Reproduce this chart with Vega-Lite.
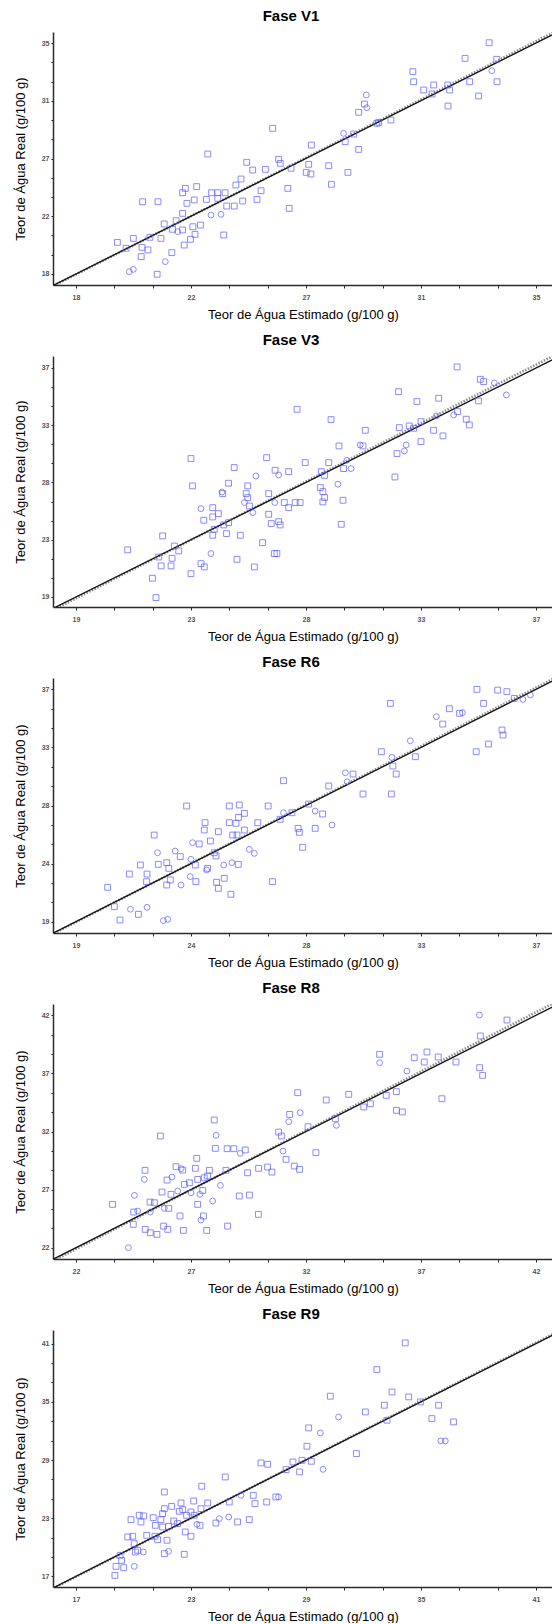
{
"$schema":"https://vega.github.io/schema/vega-lite/v6.json",
"padding":{"left":14,"top":9,"right":0,"bottom":0},
"background":"white",
"spacing":12,
"resolve":{"scale":{"x":"independent","y":"independent","shape":"independent"}},
"datasets":{
"V1":[
{"s":"q","x":25.27,"y":28.72},{"s":"q","x":22.87,"y":26.83},{"s":"q","x":24.31,"y":26.22},{"s":"q","x":24.53,"y":25.65},{"s":"q","x":25.0,"y":25.7},{"s":"q","x":24.1,"y":24.99},{"s":"q","x":23.91,"y":24.55},{"s":"q","x":22.04,"y":24.3},{"s":"q","x":22.46,"y":24.43},{"s":"q","x":21.94,"y":23.98},{"s":"q","x":20.46,"y":23.32},{"s":"q","x":21.03,"y":23.32},{"s":"q","x":22.82,"y":23.49},{"s":"q","x":23.01,"y":23.98},{"s":"q","x":23.24,"y":23.98},{"s":"q","x":23.51,"y":23.98},{"s":"q","x":23.24,"y":23.57},{"s":"q","x":24.84,"y":24.13},{"s":"q","x":24.69,"y":23.49},{"s":"q","x":24.16,"y":23.37},{"s":"q","x":23.85,"y":23.0},{"s":"q","x":23.57,"y":23.0},{"s":"q","x":22.1,"y":23.2},{"s":"q","x":22.37,"y":23.45},{"s":"c","x":22.99,"y":22.34},{"s":"c","x":23.36,"y":22.39},{"s":"q","x":21.94,"y":22.46},{"s":"q","x":21.7,"y":21.92},{"s":"q","x":21.26,"y":21.68},{"s":"q","x":21.57,"y":21.29},{"s":"q","x":21.94,"y":21.24},{"s":"c","x":21.76,"y":21.12},{"s":"q","x":22.32,"y":21.48},{"s":"q","x":22.6,"y":21.6},{"s":"q","x":22.4,"y":20.92},{"s":"q","x":22.23,"y":20.55},{"s":"q","x":20.73,"y":20.7},{"s":"q","x":21.14,"y":20.62},{"s":"q","x":20.12,"y":20.62},{"s":"q","x":19.53,"y":20.33},{"s":"q","x":23.46,"y":20.87},{"s":"q","x":22.0,"y":20.13},{"s":"q","x":20.66,"y":19.77},{"s":"q","x":20.44,"y":19.96},{"s":"q","x":19.85,"y":19.89},{"s":"q","x":21.54,"y":19.57},{"s":"q","x":20.41,"y":19.28},{"s":"c","x":21.3,"y":18.91},{"s":"c","x":19.97,"y":18.17},{"s":"c","x":20.12,"y":18.34},{"s":"q","x":21.0,"y":17.98},
{"s":"q","x":33.27,"y":35.02},{"s":"q","x":32.38,"y":33.87},{"s":"q","x":33.55,"y":33.8},{"s":"q","x":30.45,"y":32.89},{"s":"c","x":33.37,"y":32.96},{"s":"q","x":30.48,"y":32.15},{"s":"q","x":32.55,"y":32.15},{"s":"q","x":33.56,"y":32.15},{"s":"q","x":30.85,"y":31.54},{"s":"q","x":31.22,"y":31.91},{"s":"q","x":31.16,"y":31.25},{"s":"q","x":31.74,"y":31.91},{"s":"q","x":31.81,"y":31.54},{"s":"q","x":32.88,"y":31.1},{"s":"q","x":31.75,"y":30.36},{"s":"c","x":28.73,"y":31.17},{"s":"q","x":28.66,"y":30.51},{"s":"c","x":28.75,"y":30.24},{"s":"q","x":28.45,"y":29.9},{"s":"q","x":29.12,"y":29.09},{"s":"q","x":29.19,"y":29.16},{"s":"q","x":29.64,"y":29.33},{"s":"c","x":27.89,"y":28.35},{"s":"q","x":28.26,"y":28.3},{"s":"q","x":27.95,"y":27.74},{"s":"q","x":28.45,"y":27.17},{"s":"q","x":26.7,"y":27.49},{"s":"q","x":26.6,"y":26.07},{"s":"q","x":26.51,"y":25.48},{"s":"q","x":26.68,"y":25.36},{"s":"q","x":27.34,"y":25.97},{"s":"q","x":27.44,"y":24.6},{"s":"q","x":28.05,"y":25.48},{"s":"q","x":25.83,"y":24.3},{"s":"q","x":25.88,"y":22.83},{"s":"q","x":25.49,"y":26.44},{"s":"q","x":25.55,"y":26.14},{"s":"q","x":25.95,"y":25.78}
],
"V3":[
{"s":"q","x":23.5,"y":29.88},{"s":"q","x":23.56,"y":27.73},{"s":"q","x":25.19,"y":29.17},{"s":"q","x":24.97,"y":27.94},{"s":"q","x":26.46,"y":29.95},{"s":"q","x":26.79,"y":28.96},{"s":"c","x":26.04,"y":28.51},{"s":"q","x":25.72,"y":27.73},{"s":"c","x":24.71,"y":27.25},{"s":"q","x":24.74,"y":27.12},{"s":"q","x":25.66,"y":27.12},{"s":"q","x":25.72,"y":26.81},{"s":"c","x":25.59,"y":26.42},{"s":"q","x":25.79,"y":26.15},{"s":"c","x":25.92,"y":25.63},{"s":"q","x":26.54,"y":27.12},{"s":"c","x":26.78,"y":26.42},{"s":"q","x":26.54,"y":25.5},{"s":"q","x":26.64,"y":24.77},{"s":"c","x":23.89,"y":25.94},{"s":"q","x":24.35,"y":26.02},{"s":"q","x":24.57,"y":25.55},{"s":"q","x":24.35,"y":25.29},{"s":"q","x":24.0,"y":25.03},{"s":"q","x":24.78,"y":24.66},{"s":"q","x":24.97,"y":24.84},{"s":"q","x":24.41,"y":24.32},{"s":"q","x":24.35,"y":23.85},{"s":"q","x":24.89,"y":23.98},{"s":"q","x":25.43,"y":23.85},{"s":"q","x":26.3,"y":23.27},{"s":"q","x":26.76,"y":22.41},{"s":"c","x":24.28,"y":22.41},{"s":"q","x":25.3,"y":21.96},{"s":"q","x":25.98,"y":21.36},{"s":"q","x":23.89,"y":21.62},{"s":"q","x":24.02,"y":21.36},{"s":"q","x":23.5,"y":20.83},{"s":"q","x":22.39,"y":23.8},{"s":"q","x":22.85,"y":23.0},{"s":"q","x":23.02,"y":22.62},{"s":"q","x":22.24,"y":22.14},{"s":"q","x":22.33,"y":21.44},{"s":"q","x":22.76,"y":22.04},{"s":"q","x":22.72,"y":21.44},{"s":"q","x":21.99,"y":20.47},{"s":"q","x":22.13,"y":18.95},{"s":"q","x":21.02,"y":22.7},
{"s":"q","x":33.91,"y":37.08},{"s":"q","x":34.82,"y":36.11},{"s":"q","x":34.95,"y":35.93},{"s":"c","x":35.37,"y":35.82},{"s":"c","x":35.84,"y":34.88},{"s":"q","x":34.75,"y":34.41},{"s":"q","x":31.62,"y":35.14},{"s":"q","x":32.34,"y":34.36},{"s":"q","x":33.19,"y":34.62},{"s":"q","x":27.65,"y":33.75},{"s":"q","x":28.98,"y":32.94},{"s":"q","x":30.32,"y":32.1},{"s":"q","x":31.65,"y":32.31},{"s":"q","x":32.04,"y":32.44},{"s":"q","x":32.21,"y":32.26},{"s":"q","x":32.5,"y":32.78},{"s":"c","x":33.1,"y":33.23},{"s":"q","x":32.99,"y":32.1},{"s":"q","x":33.36,"y":31.66},{"s":"c","x":33.78,"y":33.31},{"s":"q","x":33.93,"y":33.57},{"s":"q","x":34.27,"y":32.97},{"s":"q","x":34.39,"y":32.52},{"s":"q","x":29.29,"y":30.87},{"s":"c","x":30.12,"y":30.95},{"s":"q","x":30.23,"y":30.87},{"s":"c","x":31.92,"y":30.95},{"s":"q","x":32.5,"y":31.21},{"s":"q","x":31.56,"y":30.27},{"s":"c","x":31.85,"y":30.48},{"s":"q","x":31.48,"y":28.43},{"s":"c","x":29.6,"y":29.74},{"s":"q","x":29.47,"y":29.09},{"s":"c","x":29.76,"y":29.09},{"s":"q","x":28.89,"y":29.56},{"s":"q","x":28.6,"y":28.85},{"s":"q","x":28.73,"y":28.56},{"s":"q","x":27.97,"y":29.56},{"s":"q","x":27.32,"y":28.85},{"s":"c","x":26.93,"y":28.59},{"s":"c","x":29.25,"y":27.86},{"s":"q","x":28.56,"y":27.6},{"s":"q","x":28.66,"y":27.28},{"s":"q","x":28.73,"y":26.81},{"s":"q","x":28.66,"y":26.47},{"s":"q","x":29.45,"y":26.6},{"s":"q","x":27.15,"y":26.42},{"s":"q","x":27.32,"y":26.02},{"s":"q","x":27.58,"y":26.42},{"s":"q","x":27.77,"y":26.42},{"s":"q","x":26.93,"y":24.92},{"s":"q","x":26.99,"y":24.66},{"s":"q","x":29.38,"y":24.71},{"s":"q","x":26.86,"y":22.41}
],
"R6":[
{"s":"q","x":23.33,"y":27.96},{"s":"q","x":25.0,"y":27.96},{"s":"q","x":25.39,"y":28.04},{"s":"q","x":26.52,"y":27.96},{"s":"q","x":25.59,"y":27.39},{"s":"q","x":25.36,"y":27.08},{"s":"q","x":24.05,"y":26.67},{"s":"q","x":25.0,"y":26.67},{"s":"q","x":25.26,"y":26.62},{"s":"q","x":26.11,"y":26.67},{"s":"q","x":24.02,"y":26.1},{"s":"q","x":24.57,"y":25.97},{"s":"q","x":22.06,"y":25.71},{"s":"q","x":25.13,"y":25.71},{"s":"q","x":25.3,"y":25.71},{"s":"q","x":25.59,"y":26.1},{"s":"c","x":23.56,"y":25.12},{"s":"q","x":23.82,"y":25.02},{"s":"q","x":24.26,"y":25.25},{"s":"c","x":22.19,"y":24.34},{"s":"c","x":22.88,"y":24.47},{"s":"q","x":23.08,"y":24.04},{"s":"c","x":23.5,"y":23.83},{"s":"q","x":24.41,"y":24.34},{"s":"q","x":24.48,"y":24.09},{"s":"c","x":25.78,"y":24.6},{"s":"c","x":25.98,"y":24.29},{"s":"q","x":21.52,"y":23.39},{"s":"q","x":22.22,"y":23.44},{"s":"q","x":22.55,"y":23.57},{"s":"q","x":22.63,"y":23.13},{"s":"q","x":23.67,"y":23.39},{"s":"c","x":24.11,"y":23.0},{"s":"q","x":24.15,"y":23.13},{"s":"c","x":24.78,"y":23.39},{"s":"c","x":25.1,"y":23.57},{"s":"q","x":25.35,"y":23.44},{"s":"q","x":21.09,"y":22.69},{"s":"q","x":21.78,"y":22.69},{"s":"q","x":21.76,"y":22.1},{"s":"q","x":22.69,"y":22.23},{"s":"c","x":23.47,"y":22.49},{"s":"q","x":23.69,"y":22.1},{"s":"q","x":24.5,"y":22.05},{"s":"q","x":24.8,"y":22.36},{"s":"q","x":24.57,"y":21.58},{"s":"q","x":22.55,"y":21.84},{"s":"c","x":23.11,"y":21.84},{"s":"q","x":20.24,"y":21.66},{"s":"q","x":25.06,"y":21.12},{"s":"q","x":26.69,"y":22.1},{"s":"q","x":20.5,"y":20.16},{"s":"c","x":21.13,"y":19.96},{"s":"q","x":21.44,"y":19.57},{"s":"c","x":21.78,"y":20.11},{"s":"q","x":20.72,"y":19.13},{"s":"c","x":22.42,"y":19.08},{"s":"c","x":22.59,"y":19.18},
{"s":"q","x":34.69,"y":37.0},{"s":"q","x":35.5,"y":36.94},{"s":"q","x":35.86,"y":36.82},{"s":"q","x":36.15,"y":36.3},{"s":"c","x":36.49,"y":36.22},{"s":"c","x":36.78,"y":36.56},{"s":"q","x":34.95,"y":35.91},{"s":"q","x":31.3,"y":35.91},{"s":"q","x":33.61,"y":35.5},{"s":"q","x":34.01,"y":35.14},{"s":"c","x":34.12,"y":35.19},{"s":"c","x":33.1,"y":34.88},{"s":"q","x":33.35,"y":34.31},{"s":"q","x":35.67,"y":33.85},{"s":"q","x":35.71,"y":33.46},{"s":"q","x":35.14,"y":32.76},{"s":"q","x":34.66,"y":32.17},{"s":"c","x":32.08,"y":33.02},{"s":"q","x":30.95,"y":32.17},{"s":"c","x":31.36,"y":31.73},{"s":"q","x":32.28,"y":31.78},{"s":"q","x":31.4,"y":31.06},{"s":"q","x":31.53,"y":30.44},{"s":"c","x":29.54,"y":30.54},{"s":"q","x":29.84,"y":30.44},{"s":"c","x":29.61,"y":29.84},{"s":"q","x":28.89,"y":29.51},{"s":"q","x":27.12,"y":29.92},{"s":"q","x":30.23,"y":28.89},{"s":"q","x":31.34,"y":28.89},{"s":"q","x":28.1,"y":28.11},{"s":"c","x":28.36,"y":27.57},{"s":"q","x":28.65,"y":27.34},{"s":"c","x":27.12,"y":27.44},{"s":"q","x":27.45,"y":27.44},{"s":"q","x":26.99,"y":26.93},{"s":"c","x":29.02,"y":26.49},{"s":"q","x":27.69,"y":26.23},{"s":"q","x":27.74,"y":25.92},{"s":"q","x":28.36,"y":26.23},{"s":"q","x":27.87,"y":24.76}
],
"R8":[
{"s":"q","x":28.01,"y":32.99},{"s":"q","x":25.67,"y":31.61},{"s":"c","x":28.09,"y":31.67},{"s":"q","x":28.06,"y":30.55},{"s":"q","x":28.57,"y":30.52},{"s":"q","x":28.86,"y":30.52},{"s":"c","x":29.14,"y":30.12},{"s":"q","x":29.36,"y":30.41},{"s":"q","x":27.25,"y":29.69},{"s":"q","x":26.35,"y":28.97},{"s":"c","x":26.57,"y":28.8},{"s":"q","x":26.64,"y":28.68},{"s":"q","x":27.19,"y":28.83},{"s":"q","x":27.8,"y":28.66},{"s":"q","x":25.0,"y":28.66},{"s":"c","x":24.97,"y":27.88},{"s":"q","x":25.96,"y":27.82},{"s":"c","x":26.17,"y":28.08},{"s":"q","x":26.71,"y":27.45},{"s":"q","x":26.93,"y":27.59},{"s":"q","x":27.29,"y":27.88},{"s":"q","x":27.58,"y":28.02},{"s":"q","x":27.72,"y":28.17},{"s":"c","x":28.28,"y":27.36},{"s":"q","x":28.52,"y":28.66},{"s":"q","x":29.46,"y":28.45},{"s":"q","x":29.94,"y":28.83},{"s":"q","x":30.33,"y":28.94},{"s":"q","x":30.52,"y":28.51},{"s":"c","x":24.54,"y":26.5},{"s":"q","x":25.74,"y":26.79},{"s":"q","x":26.13,"y":26.59},{"s":"c","x":26.42,"y":26.88},{"s":"c","x":27.0,"y":26.73},{"s":"c","x":27.39,"y":26.59},{"s":"q","x":27.51,"y":26.93},{"s":"q","x":25.22,"y":25.93},{"s":"q","x":25.41,"y":25.87},{"s":"q","x":23.59,"y":25.73},{"s":"c","x":25.84,"y":25.39},{"s":"q","x":26.03,"y":25.39},{"s":"q","x":27.29,"y":25.73},{"s":"c","x":27.94,"y":26.02},{"s":"q","x":29.1,"y":26.45},{"s":"q","x":29.54,"y":26.53},{"s":"q","x":24.51,"y":25.07},{"s":"c","x":24.68,"y":25.16},{"s":"c","x":25.23,"y":25.07},{"s":"q","x":26.52,"y":24.73},{"s":"c","x":27.43,"y":24.38},{"s":"q","x":27.54,"y":24.73},{"s":"q","x":29.93,"y":24.87},{"s":"q","x":24.49,"y":24.01},{"s":"q","x":25.01,"y":23.58},{"s":"q","x":25.23,"y":23.29},{"s":"q","x":25.52,"y":23.15},{"s":"q","x":25.81,"y":23.86},{"s":"q","x":25.99,"y":23.58},{"s":"q","x":26.67,"y":23.49},{"s":"q","x":27.68,"y":23.49},{"s":"q","x":28.59,"y":23.86},{"s":"c","x":24.28,"y":22.0},
{"s":"c","x":39.54,"y":42.02},{"s":"q","x":40.74,"y":41.59},{"s":"q","x":39.58,"y":40.22},{"s":"q","x":35.2,"y":38.64},{"s":"c","x":35.2,"y":37.92},{"s":"q","x":36.71,"y":38.35},{"s":"q","x":37.26,"y":38.84},{"s":"q","x":37.14,"y":37.98},{"s":"q","x":37.75,"y":38.41},{"s":"q","x":38.52,"y":37.98},{"s":"c","x":36.39,"y":37.2},{"s":"q","x":39.55,"y":37.49},{"s":"q","x":39.68,"y":36.83},{"s":"q","x":31.64,"y":35.34},{"s":"q","x":32.88,"y":34.71},{"s":"q","x":33.86,"y":35.2},{"s":"q","x":35.93,"y":35.43},{"s":"q","x":35.49,"y":35.11},{"s":"q","x":37.91,"y":34.82},{"s":"q","x":34.51,"y":34.11},{"s":"q","x":34.8,"y":34.39},{"s":"q","x":35.93,"y":33.82},{"s":"q","x":36.19,"y":33.68},{"s":"q","x":31.29,"y":33.47},{"s":"c","x":31.75,"y":33.62},{"s":"c","x":31.25,"y":32.84},{"s":"q","x":33.28,"y":33.1},{"s":"c","x":33.32,"y":32.53},{"s":"q","x":32.09,"y":32.41},{"s":"q","x":30.81,"y":31.95},{"s":"q","x":30.93,"y":31.61},{"s":"c","x":31.0,"y":30.32},{"s":"q","x":31.13,"y":29.6},{"s":"q","x":31.49,"y":29.03},{"s":"q","x":31.72,"y":28.74},{"s":"q","x":32.43,"y":30.18}
],
"R9":[
{"s":"q","x":26.65,"y":28.7},{"s":"q","x":27.0,"y":28.56},{"s":"q","x":24.79,"y":27.25},{"s":"q","x":23.56,"y":26.29},{"s":"q","x":21.61,"y":25.7},{"s":"q","x":23.14,"y":24.77},{"s":"q","x":23.87,"y":24.57},{"s":"q","x":25.0,"y":24.67},{"s":"c","x":25.61,"y":25.36},{"s":"q","x":26.25,"y":25.36},{"s":"q","x":26.34,"y":24.5},{"s":"q","x":26.95,"y":24.67},{"s":"q","x":27.43,"y":25.19},{"s":"q","x":21.61,"y":23.98},{"s":"q","x":21.99,"y":24.22},{"s":"q","x":22.39,"y":23.71},{"s":"q","x":22.57,"y":23.88},{"s":"q","x":22.48,"y":24.57},{"s":"q","x":21.52,"y":23.47},{"s":"q","x":21.43,"y":22.85},{"s":"q","x":20.3,"y":23.3},{"s":"q","x":20.53,"y":23.23},{"s":"q","x":21.03,"y":23.05},{"s":"q","x":22.77,"y":23.3},{"s":"q","x":23.0,"y":23.64},{"s":"q","x":23.17,"y":23.3},{"s":"q","x":23.52,"y":23.98},{"s":"c","x":23.31,"y":22.37},{"s":"q","x":23.47,"y":22.26},{"s":"q","x":22.3,"y":22.44},{"s":"c","x":24.48,"y":22.95},{"s":"q","x":24.3,"y":22.5},{"s":"c","x":24.97,"y":23.12},{"s":"q","x":25.43,"y":22.61},{"s":"q","x":26.04,"y":22.85},{"s":"q","x":19.87,"y":22.85},{"s":"q","x":20.39,"y":22.61},{"s":"q","x":21.14,"y":22.26},{"s":"q","x":21.52,"y":22.09},{"s":"q","x":21.83,"y":22.16},{"s":"q","x":22.1,"y":22.71},{"s":"q","x":22.7,"y":21.58},{"s":"q","x":23.0,"y":21.13},{"s":"q","x":19.7,"y":21.06},{"s":"q","x":20.69,"y":21.23},{"s":"q","x":21.12,"y":21.13},{"s":"q","x":21.26,"y":20.78},{"s":"q","x":21.75,"y":20.72},{"s":"q","x":20.04,"y":20.37},{"s":"q","x":20.22,"y":19.68},{"s":"c","x":20.51,"y":19.51},{"s":"q","x":20.1,"y":19.51},{"s":"q","x":21.61,"y":19.34},{"s":"c","x":21.83,"y":19.58},{"s":"q","x":22.65,"y":19.27},{"s":"q","x":19.3,"y":19.17},{"s":"q","x":19.38,"y":18.65},{"s":"q","x":19.09,"y":18.03},{"s":"q","x":19.49,"y":17.89},{"s":"c","x":20.04,"y":18.03},{"s":"q","x":19.03,"y":17.1},{"s":"q","x":19.96,"y":21.13},
{"s":"q","x":34.18,"y":41.08},{"s":"q","x":32.7,"y":38.33},{"s":"q","x":30.27,"y":35.58},{"s":"q","x":33.49,"y":36.02},{"s":"q","x":34.36,"y":35.51},{"s":"q","x":33.09,"y":34.65},{"s":"q","x":34.97,"y":34.99},{"s":"q","x":35.92,"y":34.65},{"s":"q","x":32.1,"y":33.96},{"s":"c","x":30.7,"y":33.44},{"s":"q","x":33.23,"y":33.1},{"s":"q","x":35.57,"y":33.27},{"s":"q","x":36.7,"y":32.93},{"s":"q","x":29.14,"y":32.31},{"s":"c","x":29.75,"y":31.79},{"s":"q","x":29.05,"y":30.42},{"s":"c","x":36.04,"y":30.97},{"s":"c","x":36.27,"y":30.97},{"s":"q","x":31.63,"y":29.66},{"s":"q","x":28.32,"y":28.8},{"s":"q","x":28.79,"y":28.97},{"s":"q","x":29.28,"y":28.87},{"s":"q","x":28.67,"y":27.77},{"s":"c","x":29.89,"y":28.04},{"s":"q","x":27.96,"y":28.01},{"s":"c","x":27.57,"y":25.19}
],
"L1":[{"g":"id","x":16,"y":16},{"g":"id","x":37,"y":37},{"g":"rg","x":16,"y":15.95},{"g":"rg","x":37,"y":37.15}],
"L3":[{"g":"id","x":17,"y":17},{"g":"id","x":39,"y":39},{"g":"rg","x":17,"y":16.85},{"g":"rg","x":39,"y":39.3}],
"L6":[{"g":"id","x":17,"y":17},{"g":"id","x":39,"y":39},{"g":"rg","x":17,"y":16.95},{"g":"rg","x":39,"y":39.15}],
"L8":[{"g":"id","x":20,"y":20},{"g":"id","x":44,"y":44},{"g":"rg","x":20,"y":19.85},{"g":"rg","x":44,"y":44.3}],
"L9":[{"g":"id","x":15,"y":15},{"g":"id","x":43,"y":43},{"g":"rg","x":15,"y":14.95},{"g":"rg","x":43,"y":43.1}]
},
"vconcat":[
{"title":"Fase V1","width":500,"height":253,
"encoding":{
"x":{"field":"x","type":"quantitative","scale":{"domain":[17.15,35.63],"nice":false,"zero":false},"axis":{"title":"Teor de Água Estimado (g/100 g)","values":[18,19.4167,20.8333,22.25,23.6667,25.0833,26.5,27.9167,29.3333,30.75,32.1667,33.5833,35],"labelExpr":"datum.value==18?'18':datum.value==22.25?'22':datum.value==26.5?'27':datum.value==30.75?'31':datum.value==35?'35':''"}},
"y":{"field":"y","type":"quantitative","scale":{"domain":[17.19,35.81],"nice":false,"zero":false},"axis":{"title":"Teor de Água Real (g/100 g)","values":[18,19.4167,20.8333,22.25,23.6667,25.0833,26.5,27.9167,29.3333,30.75,32.1667,33.5833,35],"labelExpr":"datum.value==18?'18':datum.value==22.25?'22':datum.value==26.5?'27':datum.value==30.75?'31':datum.value==35?'35':''"}}},
"layer":[
{"data":{"name":"L1"},"transform":[{"filter":"datum.g=='rg'"}],"mark":{"type":"line","clip":true,"color":"#8c8c8c","strokeWidth":2.6,"strokeDash":[1.5,1.5]},"encoding":{}},
{"data":{"name":"L1"},"transform":[{"filter":"datum.g=='id'"}],"mark":{"type":"line","clip":true,"color":"#111111","strokeWidth":1.3},"encoding":{}},
{"data":{"name":"V1"},"mark":{"type":"point","filled":false,"color":"#5a5aff","size":34,"strokeWidth":1,"clip":true},"encoding":{"shape":{"field":"s","type":"nominal","scale":{"domain":["q","c"],"range":["square","circle"]},"legend":null}}}
]},
{"title":"Fase V3","width":500,"height":251,
"encoding":{
"x":{"field":"x","type":"quantitative","scale":{"domain":[18.1,37.665],"nice":false,"zero":false},"axis":{"title":"Teor de Água Estimado (g/100 g)","values":[19,20.5,22,23.5,25,26.5,28,29.5,31,32.5,34,35.5,37],"labelExpr":"datum.value==19?'19':datum.value==23.5?'23':datum.value==28?'28':datum.value==32.5?'33':datum.value==37?'37':''"}},
"y":{"field":"y","type":"quantitative","scale":{"domain":[18.21,37.94],"nice":false,"zero":false},"axis":{"title":"Teor de Água Real (g/100 g)","values":[19,20.5,22,23.5,25,26.5,28,29.5,31,32.5,34,35.5,37],"labelExpr":"datum.value==19?'19':datum.value==23.5?'23':datum.value==28?'28':datum.value==32.5?'33':datum.value==37?'37':''"}}},
"layer":[
{"data":{"name":"L3"},"transform":[{"filter":"datum.g=='rg'"}],"mark":{"type":"line","clip":true,"color":"#8c8c8c","strokeWidth":2.6,"strokeDash":[1.5,1.5]},"encoding":{}},
{"data":{"name":"L3"},"transform":[{"filter":"datum.g=='id'"}],"mark":{"type":"line","clip":true,"color":"#111111","strokeWidth":1.3},"encoding":{}},
{"data":{"name":"V3"},"mark":{"type":"point","filled":false,"color":"#5a5aff","size":34,"strokeWidth":1,"clip":true},"encoding":{"shape":{"field":"s","type":"nominal","scale":{"domain":["q","c"],"range":["square","circle"]},"legend":null}}}
]},
{"title":"Fase R6","width":500,"height":255,
"encoding":{
"x":{"field":"x","type":"quantitative","scale":{"domain":[18.1,37.665],"nice":false,"zero":false},"axis":{"title":"Teor de Água Estimado (g/100 g)","values":[19,20.5,22,23.5,25,26.5,28,29.5,31,32.5,34,35.5,37],"labelExpr":"datum.value==19?'19':datum.value==23.5?'24':datum.value==28?'28':datum.value==32.5?'33':datum.value==37?'37':''"}},
"y":{"field":"y","type":"quantitative","scale":{"domain":[18.12,37.88],"nice":false,"zero":false},"axis":{"title":"Teor de Água Real (g/100 g)","values":[19,20.5,22,23.5,25,26.5,28,29.5,31,32.5,34,35.5,37],"labelExpr":"datum.value==19?'19':datum.value==23.5?'24':datum.value==28?'28':datum.value==32.5?'33':datum.value==37?'37':''"}}},
"layer":[
{"data":{"name":"L6"},"transform":[{"filter":"datum.g=='rg'"}],"mark":{"type":"line","clip":true,"color":"#8c8c8c","strokeWidth":2.6,"strokeDash":[1.5,1.5]},"encoding":{}},
{"data":{"name":"L6"},"transform":[{"filter":"datum.g=='id'"}],"mark":{"type":"line","clip":true,"color":"#111111","strokeWidth":1.3},"encoding":{}},
{"data":{"name":"R6"},"mark":{"type":"point","filled":false,"color":"#5a5aff","size":34,"strokeWidth":1,"clip":true},"encoding":{"shape":{"field":"s","type":"nominal","scale":{"domain":["q","c"],"range":["square","circle"]},"legend":null}}}
]},
{"title":"Fase R8","width":500,"height":255,
"encoding":{
"x":{"field":"x","type":"quantitative","scale":{"domain":[21,42.74],"nice":false,"zero":false},"axis":{"title":"Teor de Água Estimado (g/100 g)","values":[22,23.6667,25.3333,27,28.6667,30.3333,32,33.6667,35.3333,37,38.6667,40.3333,42],"labelExpr":"datum.value==22?'22':datum.value==27?'27':datum.value==32?'32':datum.value==37?'37':datum.value==42?'42':''"}},
"y":{"field":"y","type":"quantitative","scale":{"domain":[21.03,42.97],"nice":false,"zero":false},"axis":{"title":"Teor de Água Real (g/100 g)","values":[22,23.6667,25.3333,27,28.6667,30.3333,32,33.6667,35.3333,37,38.6667,40.3333,42],"labelExpr":"datum.value==22?'22':datum.value==27?'27':datum.value==32?'32':datum.value==37?'37':datum.value==42?'42':''"}}},
"layer":[
{"data":{"name":"L8"},"transform":[{"filter":"datum.g=='rg'"}],"mark":{"type":"line","clip":true,"color":"#8c8c8c","strokeWidth":2.6,"strokeDash":[1.5,1.5]},"encoding":{}},
{"data":{"name":"L8"},"transform":[{"filter":"datum.g=='id'"}],"mark":{"type":"line","clip":true,"color":"#111111","strokeWidth":1.3},"encoding":{}},
{"data":{"name":"R8"},"mark":{"type":"point","filled":false,"color":"#5a5aff","size":34,"strokeWidth":1,"clip":true},"encoding":{"shape":{"field":"s","type":"nominal","scale":{"domain":["q","c"],"range":["square","circle"]},"legend":null}}}
]},
{"title":"Fase R9","width":500,"height":257,
"encoding":{
"x":{"field":"x","type":"quantitative","scale":{"domain":[15.8,41.89],"nice":false,"zero":false},"axis":{"title":"Teor de Água Estimado (g/100 g)","values":[17,19,21,23,25,27,29,31,33,35,37,39,41],"labelExpr":"datum.value==17?'17':datum.value==23?'23':datum.value==29?'29':datum.value==35?'35':datum.value==41?'41':''"}},
"y":{"field":"y","type":"quantitative","scale":{"domain":[15.9,42.41],"nice":false,"zero":false},"axis":{"title":"Teor de Água Real (g/100 g)","values":[17,19,21,23,25,27,29,31,33,35,37,39,41],"labelExpr":"datum.value==17?'17':datum.value==23?'23':datum.value==29?'29':datum.value==35?'35':datum.value==41?'41':''"}}},
"layer":[
{"data":{"name":"L9"},"transform":[{"filter":"datum.g=='rg'"}],"mark":{"type":"line","clip":true,"color":"#8c8c8c","strokeWidth":2.6,"strokeDash":[1.5,1.5]},"encoding":{}},
{"data":{"name":"L9"},"transform":[{"filter":"datum.g=='id'"}],"mark":{"type":"line","clip":true,"color":"#111111","strokeWidth":1.3},"encoding":{}},
{"data":{"name":"R9"},"mark":{"type":"point","filled":false,"color":"#5a5aff","size":34,"strokeWidth":1,"clip":true},"encoding":{"shape":{"field":"s","type":"nominal","scale":{"domain":["q","c"],"range":["square","circle"]},"legend":null}}}
]}
],
"config":{
"font":"Liberation Sans",
"view":{"stroke":null},
"axis":{"grid":false,"domainColor":"#2b2b2b","domainWidth":1.5,"tickColor":"#2b2b2b","tickSize":3,"tickWidth":1,"labelFont":"Liberation Sans","labelFontSize":7,"labelFontWeight":"bold","labelColor":"#555555","labelOverlap":false,"labelBound":false,"labelFlush":false,"titleFont":"Liberation Sans","titleFontSize":13,"titleFontWeight":"normal","titleColor":"#000000"},
"axisX":{"labelPadding":5,"titlePadding":8},
"axisY":{"labelPadding":2,"titlePadding":14,"tickSize":2},
"title":{"font":"Liberation Sans","fontSize":15,"fontWeight":"bold","color":"#000000","offset":8,"anchor":"middle","frame":"group","dx":-12}
}
}
